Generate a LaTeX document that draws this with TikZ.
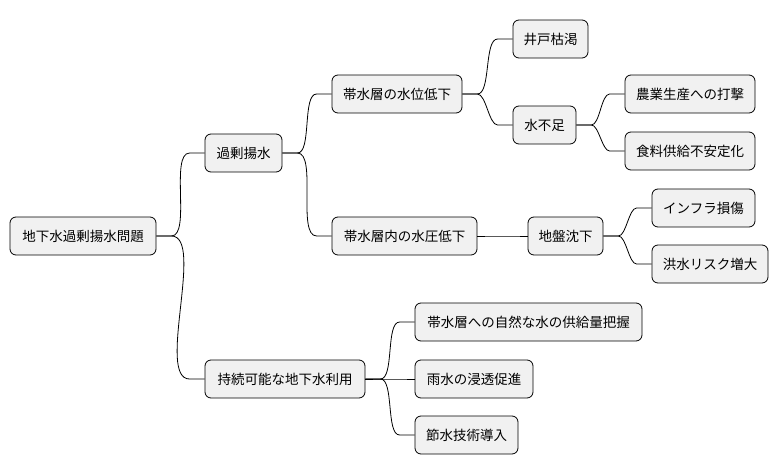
\documentclass[tikz,border=0pt]{standalone}
\usepackage{fontspec}
\setmainfont{Noto Sans CJK JP}
\begin{document}
\begin{tikzpicture}[x=1pt,y=-1pt,
  n/.style={draw=black,fill={rgb,255:red,241;green,241;blue,241},rounded corners=6pt,line width=0.8pt,
    minimum height=38pt,inner xsep=0pt,font=\fontsize{13.5}{14}\selectfont},
  e/.style={line width=0.8pt,out=0,in=180,looseness=0.9}]
\useasboundingbox (0,0) rectangle (782,471);
\node[n,minimum width=146] (r) at (83,236) {地下水過剰揚水問題};
\node[n,minimum width=77] (a) at (243.5,153) {過剰揚水};
\node[n,minimum width=160] (b) at (285,379) {持続可能な地下水利用};
\node[n,minimum width=130] (a1) at (397,94) {帯水層の水位低下};
\node[n,minimum width=145] (a2) at (404.5,236) {帯水層内の水圧低下};
\node[n,minimum width=75] (a11) at (550.5,39) {井戸枯渇};
\node[n,minimum width=63] (a12) at (544.5,125) {水不足};
\node[n,minimum width=130] (a121) at (690,94) {農業生産への打撃};
\node[n,minimum width=130] (a122) at (690,151) {食料供給不安定化};
\node[n,minimum width=75] (a21) at (565.5,236) {地盤沈下};
\node[n,minimum width=103] (a211) at (703.5,208) {インフラ損傷};
\node[n,minimum width=116] (a212) at (710,264) {洪水リスク増大};
\node[n,minimum width=227] (b1) at (528.5,322) {帯水層への自然な水の供給量把握};
\node[n,minimum width=118] (b2) at (474,379) {雨水の浸透促進};
\node[n,minimum width=103] (b3) at (466.5,435) {節水技術導入};
\foreach \p/\c in {r/a,r/b,a/a1,a/a2,a1/a11,a1/a12,a12/a121,a12/a122,a2/a21,a21/a211,a21/a212,b/b1,b/b2,b/b3}{
  \draw[line width=0.8pt] (\p.east) -- ++(15,0) to[out=0,in=180,looseness=0.6] ([xshift=-15]\c.west) -- (\c.west);
}
\end{tikzpicture}
\end{document}
